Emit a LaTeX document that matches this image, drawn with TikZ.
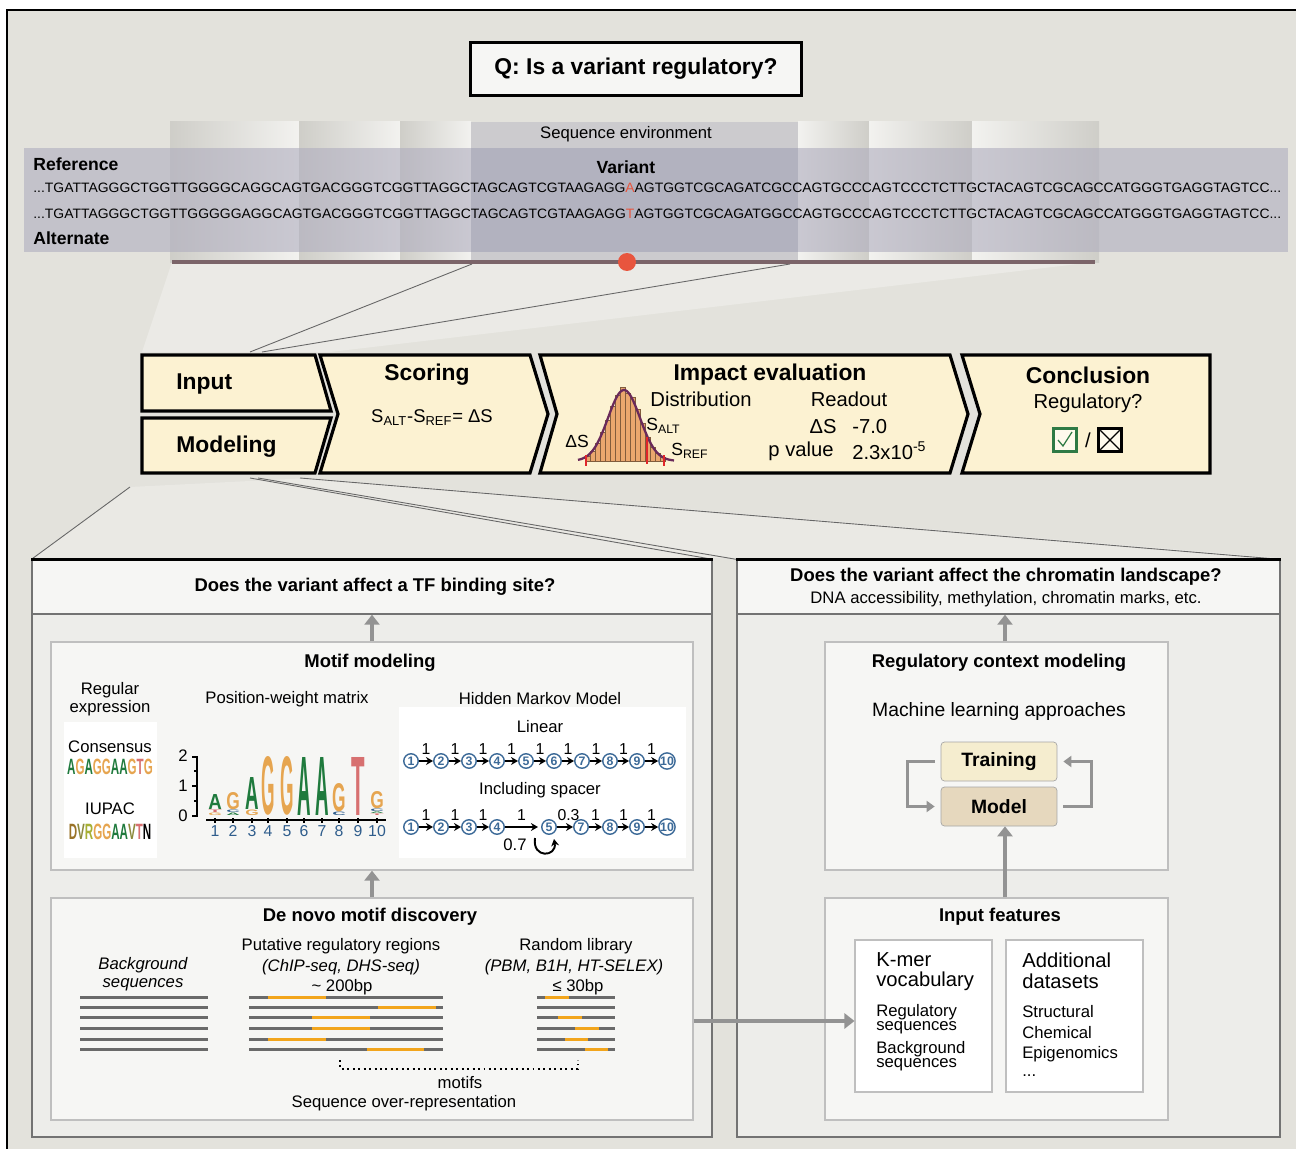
\documentclass[tikz,border=0pt]{standalone}
\usepackage{fontspec}
\setmainfont{Liberation Sans}
\usetikzlibrary{arrows.meta,positioning}

\definecolor{bgcol}{HTML}{E3E2DC}
\definecolor{panelcol}{HTML}{EDEDEA}
\definecolor{boxcol}{HTML}{F6F6F4}
\definecolor{stepcol}{HTML}{FCF2D2}
\definecolor{bandcol}{HTML}{AFADBE}
\definecolor{midcol}{HTML}{A9AAB9}
\definecolor{barcol}{HTML}{7B6469}
\definecolor{dotcol}{HTML}{E8553E}
\definecolor{arrcol}{HTML}{939393}
\definecolor{nA}{HTML}{1F7A3D}
\definecolor{nG}{HTML}{E6A550}
\definecolor{nC}{HTML}{2F5D8C}
\definecolor{nT}{HTML}{D77070}
\definecolor{nD}{HTML}{9A7328}
\definecolor{nV}{HTML}{8C8A3C}
\definecolor{nR}{HTML}{A7B035}
\definecolor{hmmcol}{HTML}{3C6A98}
\definecolor{histcol}{HTML}{EAA76E}
\definecolor{curvecol}{HTML}{6A2A5A}
\definecolor{trainfill}{HTML}{F5EDCF}
\definecolor{modelfill}{HTML}{E6D8BE}
\definecolor{seqorange}{HTML}{F2A51C}
\definecolor{seqgray}{HTML}{6A6A6A}
\definecolor{checkcol}{HTML}{2E7A45}
\definecolor{markred}{HTML}{E0262A}

% step outlines (pixel units of the picture)
\def\inputshape{(142,355) -- (315,355) -- (331,411) -- (142,411) -- cycle}
\def\modelshape{(142,418) -- (331,418) -- (315,473) -- (142,473) -- cycle}
\def\scoreshape{(320,355) -- (530,355) -- (548,414) -- (530,473) -- (320,473) -- (338,414) -- cycle}
\def\impactshape{(540,355) -- (950,355) -- (968,414) -- (950,473) -- (540,473) -- (557,414) -- cycle}
\def\conclshape{(962,355) -- (1210,355) -- (1210,473) -- (962,473) -- (980,414) -- cycle}

% one letter of the sequence logo: x, base y, height (px), colour, letter
\newcommand{\logoletter}[5]{%
  \pgfmathsetlengthmacro{\lgh}{0.02cm*#3}%
  \node[inner sep=0pt, anchor=south, text=#4] (lg-#1-#2) at (#1,#2) {\resizebox{0.27cm}{\lgh}{\bfseries #5}};}

\def\refseq{...TGATTAGGGCTGGTTGGGGCAGGCAGTGACGGGTCGGTTAGGCTAGCAGTCGTAAGAGG\textcolor{dotcol}{A}AGTGGTCGCAGATCGCCAGTGCCCAGTCCCTCTTGCTACAGTCGCAGCCATGGGTGAGGTAGTCC...}
\def\altseq{...TGATTAGGGCTGGTTGGGGGAGGCAGTGACGGGTCGGTTAGGCTAGCAGTCGTAAGAGG\textcolor{dotcol}{T}AGTGGTCGCAGATGGCCAGTGCCCAGTCCCTCTTGCTACAGTCGCAGCCATGGGTGAGGTAGTCC...}

\begin{document}
\begin{tikzpicture}[x=0.02cm, y=-0.02cm,
  lbl/.style={inner sep=0pt, font=\fontsize{9.5}{11}\selectfont},
  ttl/.style={inner sep=0pt, font=\bfseries\fontsize{10.5}{12}\selectfont},
  seqtag/.style={inner sep=0pt, font=\bfseries\fontsize{10}{12}\selectfont},
  steptitle/.style={inner sep=0pt, font=\bfseries\fontsize{13}{15}\selectfont},
  stepsub/.style={inner sep=0pt, font=\fontsize{11.5}{13}\selectfont},
  stepbox/.style={draw=black, line width=1.8pt, fill=stepcol, line join=miter},
  panel/.style={draw=black!55, line width=0.8pt, fill=panelcol},
  headbox/.style={draw=black!55, line width=0.8pt, fill=boxcol},
  inbox/.style={draw=black!25, line width=0.8pt, fill=boxcol},
  wbox/.style={draw=black!25, line width=0.6pt, fill=white},
  garrow/.style={draw=arrcol, line width=0.08cm, -{Triangle[length=0.2cm,width=0.3cm]}},
  loopar/.style={draw=arrcol, line width=0.05cm, -{Triangle[length=0.16cm,width=0.22cm]}},
  fanline/.style={draw=black!60, line width=0.5pt},
  hmmstate/.style={circle, draw=hmmcol, line width=0.8pt, fill=white, text=hmmcol, inner sep=0pt,
    minimum size=0.29cm, font=\bfseries\fontsize{7}{7}\selectfont},
  hmmarr/.style={draw=black, line width=1.3pt, -{Stealth[length=4pt,width=4.5pt]}},
  hmmlbl/.style={midway, above=3pt, inner sep=0pt, font=\fontsize{9}{10}\selectfont},
  seqln/.style={draw=seqgray, line width=0.06cm},
  motifln/.style={draw=seqorange, line width=0.06cm},
]
\useasboundingbox (0,0) rectangle (1296,1149);
\fill[white] (0,0) rectangle (1296,1149);
\fill[bgcol] (7,10) rectangle (1296,1149);
\draw[line width=1.3pt] (7,1149) -- (7,10) -- (1296,10);

\node[draw, line width=1.8pt, fill=boxcol, minimum width=6.62cm, minimum height=1.06cm,
  font=\bfseries\fontsize{13}{15}\selectfont] (question) at (636,69) {Q: Is a variant regulatory?};

% sequence environment
\foreach \xa/\xb in {170/299,299/400,400/471}
  \shade[left color=black!9!bgcol, right color=white!55!bgcol] (\xa,122) rectangle (\xb,262);
\fill[midcol!40!bgcol] (471,122) rectangle (798,262);
\foreach \xa/\xb in {798/869,869/972,972/1099}
  \shade[left color=white!55!bgcol, right color=black!9!bgcol] (\xa,122) rectangle (\xb,262);
\fill[bandcol, opacity=.6] (24,148) rectangle (1288,252);
\fill[midcol, opacity=.45] (471,148) rectangle (798,252);

\node[lbl] (seqenv) at (626,134) {Sequence environment};
\node[seqtag, anchor=west] (reflbl) at (33,164) {Reference};
\node[seqtag] (varlbl) at (626,167) {Variant};
\node[seqtag, anchor=west] (altlbl) at (33,238) {Alternate};
\node[inner sep=0pt, anchor=west] (refrow) at (33,188) {\resizebox{24.96cm}{0.19cm}{\fontsize{8}{9}\selectfont\refseq}};
\node[inner sep=0pt, anchor=west] (altrow) at (33,214) {\resizebox{24.96cm}{0.19cm}{\fontsize{8}{9}\selectfont\altseq}};

% funnel down to the steps
\fill[white, opacity=.3] (172,262) -- (1095,262) -- (330,352) -- (142,352) -- cycle;
\coordinate (fa) at (472,264);
\coordinate (fb) at (790,264);
\coordinate (fc) at (250,352);
\coordinate (fd) at (262,352);
\draw[fanline] (fa) -- (fc);
\draw[fanline] (fb) -- (fd);
\draw[barcol, line width=0.1cm] (172,262) -- (1095,262);
\node[circle, fill=dotcol, minimum size=0.36cm, inner sep=0pt] (snv) at (627,262) {};

% steps
\draw[stepbox] \inputshape;
\draw[stepbox] \modelshape;
\draw[stepbox] \scoreshape;
\draw[stepbox] \impactshape;
\draw[stepbox] \conclshape;

\node[steptitle, anchor=west] (inp) at (176,384) {Input};
\node[steptitle, anchor=west] (mdl) at (176,447) {Modeling};
\node[steptitle] (scr) at (427,375) {Scoring};
\node[stepsub, font=\fontsize{10.5}{12}\selectfont] (scrf) at (432,418)
  {S\textsubscript{ALT}-S\textsubscript{REF}= ΔS};
\node[steptitle] (imp) at (770,375) {Impact evaluation};
\node[stepsub] (dist) at (701,399) {Distribution};
\node[stepsub] (rdo) at (849,399) {Readout};

% histogram
\foreach \bx/\bh in {585/5,590/10,595/18,600/29,605/41,610/55,615/66,620/74,625/68,630/64,635/52,640/38,645/24,650/14,655/8,660/4}
  \filldraw[fill=histcol, draw=histcol!55!black, line width=0.2pt] (\bx,461) rectangle ++(5,-\bh);
\draw[curvecol, line width=1.3pt] plot[domain=578:674, samples=60]
  (\x, {461-71*exp(-0.5*((\x-624)/16)*((\x-624)/16))});
\draw[markred, line width=1.2pt] (586,455) -- (586,466);
\draw[markred, line width=1.2pt] (647,437) -- (647,464);
\draw[markred, line width=1.2pt] (664,455) -- (664,466);
\node[stepsub, font=\fontsize{10}{12}\selectfont] (dsl) at (577,441) {ΔS};
\node[stepsub, font=\fontsize{10}{12}\selectfont, anchor=west] (salt) at (646,426) {S\textsubscript{ALT}};
\node[stepsub, font=\fontsize{10}{12}\selectfont, anchor=west] (sref) at (671,451) {S\textsubscript{REF}};
\node[stepsub] (dsr) at (823,427) {ΔS};
\node[stepsub, anchor=west] (dsv) at (852,427) {-7.0};
\node[stepsub] (pvl) at (801,451) {p value};
\node[stepsub, anchor=west] (pvv) at (852,451) {2.3x10\textsuperscript{-5}};

\node[steptitle] (ccl) at (1088,375) {Conclusion};
\node[stepsub] (regq) at (1088,403) {Regulatory?};
\node[draw=checkcol, line width=1.4pt, fill=white!60!stepcol, minimum size=0.46cm, inner sep=0pt] (yes) at (1065,440) {};
\draw[checkcol, line width=0.7pt] ([shift={(-7,0)}]yes.center) -- ([shift={(-2,6)}]yes.center) -- ([shift={(7,-8)}]yes.center);
\node[stepsub] (slash) at (1088,440) {/};
\node[draw, line width=1.4pt, fill=white!60!stepcol, minimum size=0.46cm, inner sep=0pt] (no) at (1110,440) {};
\draw[line width=0.7pt] ([shift={(3,3)}]no.north west) -- ([shift={(-3,-3)}]no.south east);
\draw[line width=0.7pt] ([shift={(3,-3)}]no.south west) -- ([shift={(-3,3)}]no.north east);

% fan from Modeling to the two panels
\fill[white, opacity=.25] (130,487) -- (310,478) -- (1280,558) -- (33,558) -- cycle;
\node[panel, minimum width=13.6cm, minimum height=11.54cm] (lpanel) at (372,848.5) {};
\node[panel, minimum width=10.86cm, minimum height=11.54cm] (rpanel) at (1008.5,848.5) {};
\coordinate (ma) at (130,487);
\coordinate (mb) at (250,478);
\coordinate (mc) at (258,478);
\coordinate (md) at (300,478);
\draw[fanline] (ma) -- (lpanel.north west);
\draw[fanline] (mb) -- (lpanel.north east);
\draw[fanline] (mc) -- (rpanel.north west);
\draw[fanline] (md) -- (rpanel.north east);

% left panel
\node[headbox, minimum width=13.6cm, minimum height=1.08cm] (lhead) at (372,587) {};
\draw[line width=1.8pt] (lhead.north west) -- (lhead.north east);
\node[ttl] (lq) at (375,587) {Does the variant affect a TF binding site?};

\node[inbox, minimum width=12.84cm, minimum height=4.56cm] (motif) at (372,756) {};
\node[ttl] (motift) at (370,663) {Motif modeling};
\node[wbox, draw=none, minimum width=1.86cm, minimum height=2.72cm] (rebox) at (110.5,790) {};
\node[lbl, align=center] (rex) at (110,699) {Regular\\[-1pt]expression};
\node[lbl] (cons) at (110,747) {Consensus};
\node[inner sep=0pt] (consseq) at (110,767) {\scalebox{0.55}[1.05]{\bfseries\fontsize{12}{12}\selectfont
  \textcolor{nA}{A}\textcolor{nG}{G}\textcolor{nA}{A}\textcolor{nG}{GG}\textcolor{nA}{AA}\textcolor{nG}{G}\textcolor{nT}{T}\textcolor{nG}{G}}};
\node[lbl] (iupac) at (110,809) {IUPAC};
\node[inner sep=0pt] (iupacseq) at (110,832) {\scalebox{0.55}[1.05]{\bfseries\fontsize{12}{12}\selectfont
  \textcolor{nD}{D}\textcolor{nV}{V}\textcolor{nR}{R}\textcolor{nG}{GG}\textcolor{nA}{AA}\textcolor{nV}{V}\textcolor{nT}{T}N}};

% position-weight matrix
\node[lbl] (pwm) at (287,699) {Position-weight matrix};
\draw[line width=0.9pt] (192,757) -- (197,757) -- (197,816) -- (192,816);
\draw[line width=0.9pt] (192,786) -- (197,786);
\foreach \ty in {771,801} \draw[line width=0.6pt] (194,\ty) -- (197,\ty);
\node[lbl] (ax2) at (183,756) {2};
\node[lbl] (ax1) at (183,786) {1};
\node[lbl] (ax0) at (183,816) {0};
\draw[line width=0.9pt] (206,820) -- (386,820);
\foreach \n/\px in {1/215,2/233,3/252,4/268,5/287,6/304,7/322,8/339,9/358,10/377} {
  \draw[line width=0.6pt] (\px,818) -- (\px,823);
  \node[lbl, text=nC, font=\fontsize{9}{10}\selectfont] (pn\n) at (\px,831) {\n};
}
\logoletter{215}{816}{2.5}{nG}{G}
\logoletter{215}{812.8}{2.5}{nT}{T}
\logoletter{215}{809.6}{15}{nA}{A}
\logoletter{233}{816}{2.5}{nA}{A}
\logoletter{233}{812.8}{2.5}{nC}{C}
\logoletter{233}{809.6}{17}{nG}{G}
\logoletter{252}{816}{5.5}{nG}{G}
\logoletter{252}{809.8}{32}{nA}{A}
\logoletter{268}{816}{58}{nG}{G}
\logoletter{287}{816}{58}{nG}{G}
\logoletter{304}{816}{58}{nA}{A}
\logoletter{322}{816}{58}{nA}{A}
\logoletter{339}{816}{3.5}{nC}{C}
\logoletter{339}{811.8}{28}{nG}{G}
\logoletter{358}{816}{58}{nT}{T}
\logoletter{377}{816}{1.6}{nT}{T}
\logoletter{377}{813.9}{1.6}{nA}{A}
\logoletter{377}{811.8}{2.5}{nC}{C}
\logoletter{377}{808.7}{17}{nG}{G}

% hidden Markov model
\node[lbl] (hmmt) at (540,699) {Hidden Markov Model};
\node[wbox, draw=none, minimum width=5.74cm, minimum height=3.02cm] (hmmbox) at (542.5,782.5) {};
\node[lbl] (lin) at (540,727) {Linear};
\foreach \n/\hx in {1/411,2/441,3/469,4/497,5/526,6/554,7/582,8/610,9/637,10/667}
  \node[hmmstate] (h\n) at (\hx,761) {\n};
\foreach \a/\b in {1/2,2/3,3/4,4/5,5/6,6/7,7/8,8/9,9/10}
  \draw[hmmarr] (h\a) -- node[hmmlbl] {1} (h\b);
\node[lbl] (spc) at (540,790) {Including spacer};
\foreach \n/\hx in {1/411,2/441,3/469,4/497,5/549,7/581,8/610,9/637,10/667}
  \node[hmmstate] (s\n) at (\hx,827) {\n};
\coordinate (gap) at (538,827);
\foreach \a/\b in {1/2,2/3,3/4}
  \draw[hmmarr] (s\a) -- node[hmmlbl] {1} (s\b);
\draw[hmmarr] (s4) -- node[hmmlbl] {1} (gap);
\draw[hmmarr] (s5) -- node[hmmlbl, xshift=2pt] {0.3} (s7);
\foreach \a/\b in {7/8,8/9,9/10}
  \draw[hmmarr] (s\a) -- node[hmmlbl] {1} (s\b);
\draw[hmmarr, line width=1.1pt] (535,838) .. controls (532,859) and (557,857) .. (554,839);
\node[lbl] (selfp) at (515,845) {0.7};

\draw[garrow] (motif.north) -- (lhead.south);

% de novo motif discovery
\node[inbox, minimum width=12.84cm, minimum height=4.44cm] (denovo) at (372,1009) {};
\draw[garrow] (denovo.north) -- (motif.south);
\node[ttl] (denovot) at (370,917) {De novo motif discovery};
\node[lbl, font=\itshape\fontsize{9.5}{11}\selectfont, align=center] (bgs) at (143,974) {Background\\[-1pt]sequences};
\node[lbl] (put) at (341,946) {Putative regulatory regions};
\node[lbl, font=\itshape\fontsize{9.5}{11}\selectfont] (putx) at (341,967) {(ChIP-seq, DHS-seq)};
\node[lbl] (putl) at (342,987) {\textasciitilde\ 200bp};
\node[lbl] (rnd) at (576,946) {Random library};
\node[lbl, font=\itshape\fontsize{9.5}{11}\selectfont] (rndx) at (574,967) {(PBM, B1H, HT-SELEX)};
\node[lbl] (rndl) at (578,987) {≤ 30bp};
\foreach \ly in {997,1007,1017,1028,1039,1049} {
  \draw[seqln] (80,\ly) -- (208,\ly);
  \draw[seqln] (249,\ly) -- (443,\ly);
  \draw[seqln] (537,\ly) -- (615,\ly);
}
\foreach \ly/\oa/\ob in {997/268/326,1007/378/436,1017/312/370,1028/312/370,1039/268/326,1049/367/424,
  997/545/569,1017/558/582,1028/575/599,1039/565/588,1049/585/608}
  \draw[motifln] (\oa,\ly) -- (\ob,\ly);
\draw[dotted, line width=1.1pt] (340,1060) -- (340,1069) -- (578,1069) -- (578,1060);
\node[lbl] (mtf) at (460,1083) {motifs};
\node[lbl] (ovr) at (404,1103) {Sequence over-representation};

% right panel
\node[headbox, minimum width=10.86cm, minimum height=1.08cm] (rhead) at (1008.5,587) {};
\draw[line width=1.8pt] (rhead.north west) -- (rhead.north east);
\node[ttl] (rq) at (1006,577) {Does the variant affect the chromatin landscape?};
\node[lbl, font=\fontsize{9.5}{11}\selectfont] (rqs) at (1006,599) {DNA accessibility, methylation, chromatin marks, etc.};

\node[inbox, minimum width=6.86cm, minimum height=4.56cm] (regctx) at (996.5,756) {};
\node[ttl] (regt) at (999,663) {Regulatory context modeling};
\node[lbl, font=\fontsize{11}{13}\selectfont] (mla) at (999,712) {Machine learning approaches};
\node[draw=black!35, fill=trainfill, rounded corners=2pt, minimum width=2.32cm, minimum height=0.78cm,
  font=\bfseries\fontsize{11}{13}\selectfont] (train) at (999,761.5) {Training};
\node[draw=black!35, fill=modelfill, rounded corners=2pt, minimum width=2.32cm, minimum height=0.78cm,
  font=\bfseries\fontsize{11}{13}\selectfont] (model) at (999,806.5) {Model};
\draw[loopar] ([xshift=-0.12cm]train.west) -- ++(-27,0) |- ([xshift=-0.12cm]model.west);
\draw[loopar] ([xshift=0.12cm]model.east) -- ++(28,0) |- ([xshift=0.12cm]train.east);

\node[inbox, minimum width=6.86cm, minimum height=4.44cm] (feat) at (996.5,1009) {};
\node[ttl] (featt) at (1000,917) {Input features};
\node[wbox, minimum width=2.74cm, minimum height=3.04cm] (kmer) at (923.5,1016) {};
\node[wbox, minimum width=2.74cm, minimum height=3.04cm] (adds) at (1074.5,1016) {};
\node[lbl, font=\fontsize{11.5}{13}\selectfont, anchor=west] (km1) at (876,960) {K-mer};
\node[lbl, font=\fontsize{11.5}{13}\selectfont, anchor=west] (km2) at (876,981) {vocabulary};
\node[lbl, anchor=west] (km3) at (876,1012) {Regulatory};
\node[lbl, anchor=west] (km4) at (876,1028) {sequences};
\node[lbl, anchor=west] (km5) at (876,1049) {Background};
\node[lbl, anchor=west] (km6) at (876,1065) {sequences};
\node[lbl, font=\fontsize{11.5}{13}\selectfont, anchor=west] (ad1) at (1022,960) {Additional};
\node[lbl, font=\fontsize{11.5}{13}\selectfont, anchor=west] (ad2) at (1022,981) {datasets};
\node[lbl, anchor=west] (ad3) at (1022,1012) {Structural};
\node[lbl, anchor=west] (ad4) at (1022,1033) {Chemical};
\node[lbl, anchor=west] (ad5) at (1022,1054) {Epigenomics};
\node[lbl, anchor=west] (ad6) at (1022,1076) {...};

\coordinate (ax) at (1005,0);
\coordinate (ay) at (0,1021);
\draw[garrow] (regctx.north -| ax) -- (rhead.south -| ax);
\draw[garrow] (feat.north -| ax) -- (model.south -| ax);
\draw[garrow] (denovo.east |- ay) -- (kmer.west |- ay);
\end{tikzpicture}
\end{document}
